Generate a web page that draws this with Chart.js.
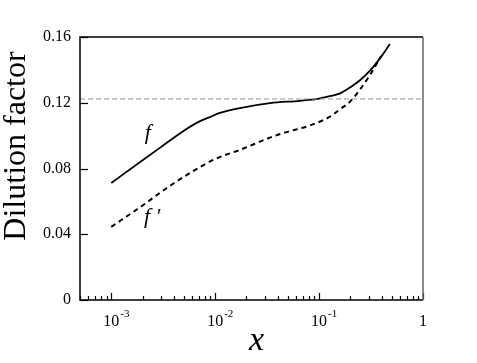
<!DOCTYPE html>
<html>
<head>
  <title>Dilution factor</title>
  <script src="https://cdn.jsdelivr.net/npm/chart.js"></script>
  <style>
    body { margin: 0; background: #fff; }
    canvas { display: block; }
  </style>
</head>
<body>
  <canvas id="dilutionChart" width="477" height="363"></canvas>

  <script>
    // values
    const fX = [0.001, 0.002, 0.003, 0.005, 0.007, 0.0089, 0.0111, 0.0173, 0.0337, 0.0655, 0.1, 0.127, 0.159, 0.198, 0.246, 0.309, 0.385, 0.48];
    const fY = [0.0712, 0.085, 0.093, 0.103, 0.1085, 0.1113, 0.1138, 0.1168, 0.1198, 0.1212, 0.1225, 0.124, 0.1257, 0.1293, 0.1335, 0.1395, 0.147, 0.1557];
    const fpX = [0.001, 0.002, 0.0034, 0.0053, 0.01, 0.0173, 0.0337, 0.0466, 0.0816, 0.127, 0.159, 0.198, 0.246, 0.309, 0.395];
    const fpY = [0.0445, 0.0575, 0.068, 0.076, 0.0858, 0.0913, 0.0988, 0.1018, 0.1062, 0.1115, 0.116, 0.1206, 0.1278, 0.1369, 0.1484];
    const refLevel = 0.1223;

    const xMin = 5e-4, xMax = 1;
    const yTicks = [0, 0.04, 0.08, 0.12, 0.16];
    const xMajor = [1e-3, 1e-2, 1e-1, 1];
    const xTickBase = ['10', '10', '10', '1'];
    const xTickExp = ['-3', '-2', '-1', ''];
    const curveLabels = [
      { text: 'f', x: 2.25e-3, y: 0.1016 },
      { text: "f '", x: 2.47e-3, y: 0.0505 }
    ];

    const serif = "'Liberation Serif', 'Times New Roman', serif";

    function toPoints(xs, ys) {
      return xs.map((x, i) => ({ x: x, y: ys[i] }));
    }

    // frame, inward ticks, log labels and titles
    const decorations = {
      id: 'decorations',
      afterDraw(chart) {
        const ctx = chart.ctx;
        const a = chart.chartArea;
        const xs = chart.scales.x;
        const ys = chart.scales.y;
        ctx.save();

        ctx.strokeStyle = '#000';
        ctx.lineWidth = 1.2;
        // y ticks
        yTicks.forEach(v => {
          const py = Math.round(ys.getPixelForValue(v)) + 0.5;
          ctx.beginPath();
          ctx.moveTo(a.left, py);
          ctx.lineTo(a.left + 8, py);
          ctx.stroke();
        });
        // x ticks, major and minor
        for (let d = -4; d <= 0; d++) {
          for (let m = 1; m <= 9; m++) {
            const v = m * Math.pow(10, d);
            if (v < xMin * 0.999 || v > xMax * 1.001) continue;
            const px = Math.round(xs.getPixelForValue(v)) + 0.5;
            const len = m === 1 ? 7 : 4;
            ctx.beginPath();
            ctx.moveTo(px, a.bottom);
            ctx.lineTo(px, a.bottom - len);
            ctx.stroke();
          }
        }

        // frame
        ctx.lineWidth = 1.5;
        ctx.beginPath();
        ctx.moveTo(a.right, a.top);
        ctx.lineTo(a.left, a.top);
        ctx.lineTo(a.left, a.bottom);
        ctx.lineTo(a.right, a.bottom);
        ctx.stroke();
        ctx.strokeStyle = '#666';
        ctx.beginPath();
        ctx.moveTo(a.right, a.top);
        ctx.lineTo(a.right, a.bottom);
        ctx.stroke();

        // x tick labels with superscripts
        ctx.fillStyle = '#000';
        ctx.textBaseline = 'alphabetic';
        xMajor.forEach((v, i) => {
          const px = xs.getPixelForValue(v);
          ctx.font = '16px ' + serif;
          ctx.textAlign = 'center';
          ctx.fillText(xTickBase[i], px, a.bottom + 26);
          const w = ctx.measureText(xTickBase[i]).width;
          if (xTickExp[i]) {
            ctx.font = '11px ' + serif;
            ctx.textAlign = 'left';
            ctx.fillText(xTickExp[i], px + w / 2 + 1, a.bottom + 17);
          }
        });

        // axis titles
        ctx.font = 'italic 34px ' + serif;
        ctx.textAlign = 'center';
        ctx.fillText('x', (a.left + a.right) / 2 + 5, 350);

        ctx.save();
        ctx.translate(25, 146);
        ctx.rotate(-Math.PI / 2);
        ctx.font = '32px ' + serif;
        ctx.fillText('Dilution factor', 0, 0);
        ctx.restore();

        // curve labels
        ctx.font = 'italic 22px ' + serif;
        ctx.textBaseline = 'middle';
        curveLabels.forEach(l => {
          ctx.fillText(l.text, xs.getPixelForValue(l.x), ys.getPixelForValue(l.y));
        });

        ctx.restore();
      }
    };

    const ctx = document.getElementById('dilutionChart').getContext('2d');
    const chart = new Chart(ctx, {
      type: 'line',
      data: {
        datasets: [
          {
            label: 'reference',
            data: toPoints([xMin, xMax], [refLevel, refLevel]),
            borderColor: '#999',
            borderWidth: 1,
            borderDash: [5, 3],
            pointRadius: 0
          },
          {
            label: 'f',
            data: toPoints(fX, fY),
            borderColor: '#000',
            borderWidth: 1.8,
            pointRadius: 0,
            cubicInterpolationMode: 'monotone'
          },
          {
            label: "f '",
            data: toPoints(fpX, fpY),
            borderColor: '#000',
            borderWidth: 2,
            borderDash: [5, 4],
            pointRadius: 0,
            cubicInterpolationMode: 'monotone'
          }
        ]
      },
      options: {
        responsive: false,
        animation: false,
        layout: { padding: { top: 37, right: 54, left: 0, bottom: 0 } },
        plugins: {
          legend: { display: false },
          tooltip: { enabled: false }
        },
        scales: {
          x: {
            type: 'logarithmic',
            min: xMin,
            max: xMax,
            grid: { display: false },
            border: { display: false },
            ticks: { display: false },
            afterFit(scale) { scale.height = 63; }
          },
          y: {
            min: 0,
            max: 0.16,
            grid: { display: false, drawTicks: false },
            border: { display: false },
            ticks: {
              stepSize: 0.04,
              padding: 9,
              color: '#000',
              font: { family: serif, size: 16 },
              callback: v => (v === 0 ? '0' : v.toFixed(2))
            },
            afterFit(scale) { scale.width = 80; }
          }
        }
      },
      plugins: [decorations]
    });
  </script>
</body>
</html>
